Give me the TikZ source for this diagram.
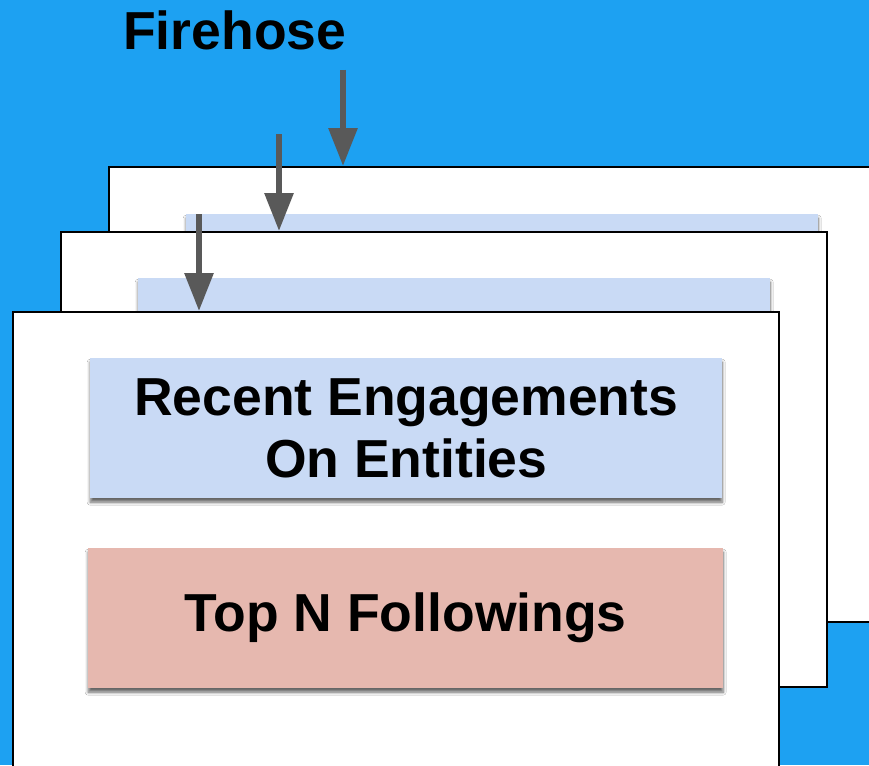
\documentclass[tikz,border=0pt]{standalone}
\usepackage{fontspec}
\setmainfont{Liberation Sans}
\usetikzlibrary{arrows.meta, positioning, shadows.blur}
\definecolor{skyblue}{RGB}{29,161,242}
\definecolor{engblue}{RGB}{201,218,245}
\definecolor{followred}{RGB}{230,184,175}
\definecolor{hosegray}{RGB}{89,89,89}
\begin{document}
\begin{tikzpicture}[
  x=1pt, y=-1pt, >=Triangle, every node/.style={font=\bfseries\fontsize{53.5}{62}\selectfont},
  card/.style={draw, line width=1.6pt, fill=white, anchor=north west, minimum width=766pt, minimum height=455pt, inner sep=0pt},
  part/.style={anchor=north west, minimum height=140pt, inner sep=0pt, align=center,
    blur shadow={shadow xshift=0pt, shadow yshift=-4pt, shadow blur radius=3pt, shadow blur steps=6, shadow opacity=60}},
  flow/.style={->, draw=hosegray, line width=6pt, arrows={-Triangle[width=28pt, length=38pt]}}
]
  \useasboundingbox (0,0) rectangle (869,765);
  \clip (0,0) rectangle (869,765);
  \fill[skyblue] (0,0) rectangle (869,765);
  \node[anchor=base west, inner sep=0pt] (hose) at (123,50) {Firehose};
  % back cards
  \node[card] (back) at (108,166) {};
  \node[part, fill=engblue, minimum width=632pt] (backeng) at (186,214) {};
  \node[card] (mid) at (60,231) {};
  \node[part, fill=engblue, minimum width=632pt] (mideng) at (138,278) {};
  % front card
  \node[card] (front) at (12,311) {};
  \node[part, fill=engblue, minimum width=632pt] (eng) at (90,358) {Recent Engagements\\On Entities};
  \node[part, fill=followred, minimum width=635pt] (top) at (88,548) {Top N Followings};
  \coordinate (s1) at (343,70);
  \coordinate (s2) at (279,134);
  \coordinate (s3) at (199,214);
  \draw[flow] (s1) -- (s1 |- back.north);
  \draw[flow] (s2) -- (s2 |- mid.north);
  \draw[flow] (s3) -- (s3 |- front.north);
\end{tikzpicture}
\end{document}
